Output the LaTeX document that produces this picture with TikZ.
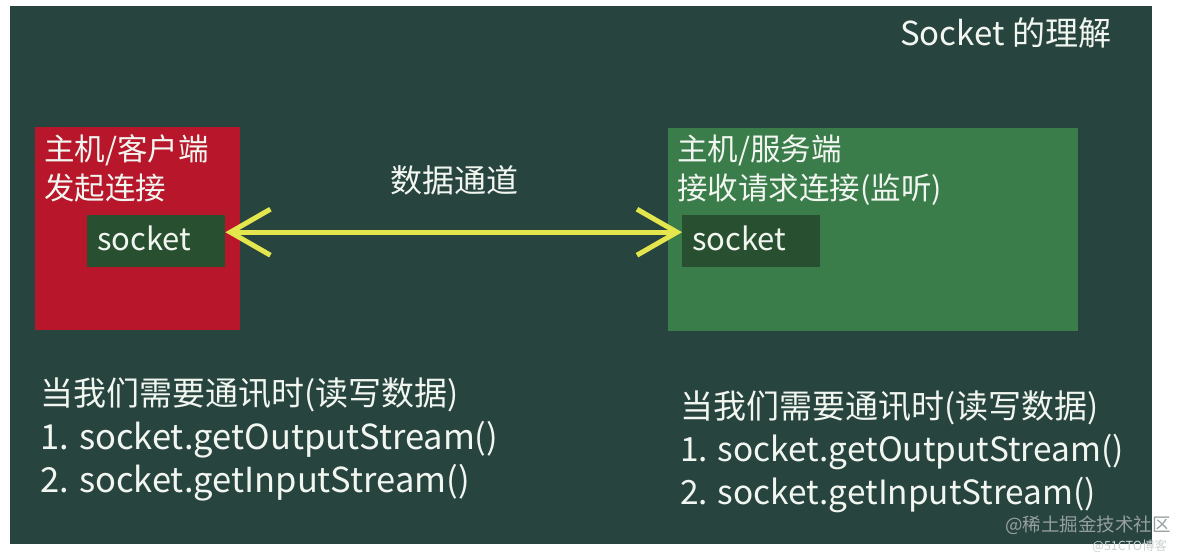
\documentclass[tikz,border=0pt]{standalone}
\usepackage{fontspec}
\setmainfont{Noto Sans CJK SC}
\usetikzlibrary{arrows.meta}
\definecolor{board}{RGB}{40,68,63}
\definecolor{clientred}{RGB}{184,22,42}
\definecolor{servergreen}{RGB}{58,125,75}
\definecolor{sockdark}{RGB}{40,80,48}
\definecolor{chalk}{RGB}{242,246,240}
\definecolor{arrowyellow}{RGB}{228,230,78}
\definecolor{wmark}{RGB}{150,160,160}
\definecolor{wmark2}{RGB}{205,210,210}
\tikzset{
  txt/.style={inner sep=0pt, anchor=west, text=chalk, font=\fontsize{30.5}{34}\selectfont},
  bigtxt/.style={inner sep=0pt, anchor=west, text=chalk, font=\fontsize{33}{36}\selectfont},
  codetxt/.style={inner sep=0pt, anchor=west, text=chalk, font=\fontsize{34.5}{38}\selectfont},
  codetxtr/.style={inner sep=0pt, anchor=west, text=chalk, font=\fontsize{33.4}{38}\selectfont},
  hostbox/.style={draw=none, inner sep=0pt, anchor=north west},
  sockbox/.style={fill=sockdark, draw=none, inner sep=0pt, anchor=north west, minimum width=138pt, minimum height=52pt},
  link/.style={draw=arrowyellow, line width=5pt, {Straight Barb[length=40pt,width=46pt]}-{Straight Barb[length=40pt,width=46pt]}}
}
\begin{document}
\begin{tikzpicture}[x=1pt,y=-1pt]
\useasboundingbox (0,0) rectangle (1184,558);
\fill[white] (0,0) rectangle (1184,558);
\node[fill=board, inner sep=0pt, anchor=north west, minimum width=1142pt, minimum height=538pt] (bg) at (10,6) {};
% title
\node[txt, font=\fontsize{33}{36}\selectfont] (title) at (900,33) {Socket 的理解};
% client
\node[hostbox, fill=clientred, minimum width=205pt, minimum height=203pt] (client) at (35,127) {};
\node[txt] (cl1) at (44,150) {主机/客户端};
\node[txt] (cl2) at (44,188) {发起连接};
\node[sockbox] (ls) at (87,215) {};
\node[txt, font=\fontsize{31}{34}\selectfont] (lst) at (97,238) {socket};
% server
\node[hostbox, fill=servergreen, minimum width=410pt, minimum height=203pt] (server) at (668,128) {};
\node[txt] (sv1) at (677,150) {主机/服务端};
\node[txt] (sv2) at (677,190) {接收请求连接(监听)};
\node[sockbox] (rs) at (682,215) {};
\node[txt, font=\fontsize{31}{34}\selectfont] (rst) at (692,238) {socket};
% channel
\node[txt, anchor=center, font=\fontsize{32}{34}\selectfont] (chan) at (454,180) {数据通道};
\draw[link] ([yshift=9pt]ls.east) -- ([yshift=9pt]rs.west);
% bottom left
\node[bigtxt] (bl1) at (40,395) {当我们需要通讯时(读写数据)};
\node[codetxt] (bl2) at (40,440) {1. socket.getOutputStream()};
\node[codetxt] (bl3) at (40,483) {2. socket.getInputStream()};
% bottom right
\node[bigtxt] (br1) at (680,408) {当我们需要通讯时(读写数据)};
\node[codetxtr] (br2) at (680,452) {1. socket.getOutputStream()};
\node[codetxtr] (br3) at (680,495) {2. socket.getInputStream()};
% watermarks
\node[inner sep=0pt, anchor=west, text=wmark, font=\fontsize{18.5}{22}\selectfont] (wm1) at (1005,525) {@稀土掘金技术社区};
\node[inner sep=0pt, anchor=west, text=wmark2, font=\fontsize{12.5}{15}\selectfont] (wm2) at (1092,546) {@51CTO博客};
\end{tikzpicture}
\end{document}
